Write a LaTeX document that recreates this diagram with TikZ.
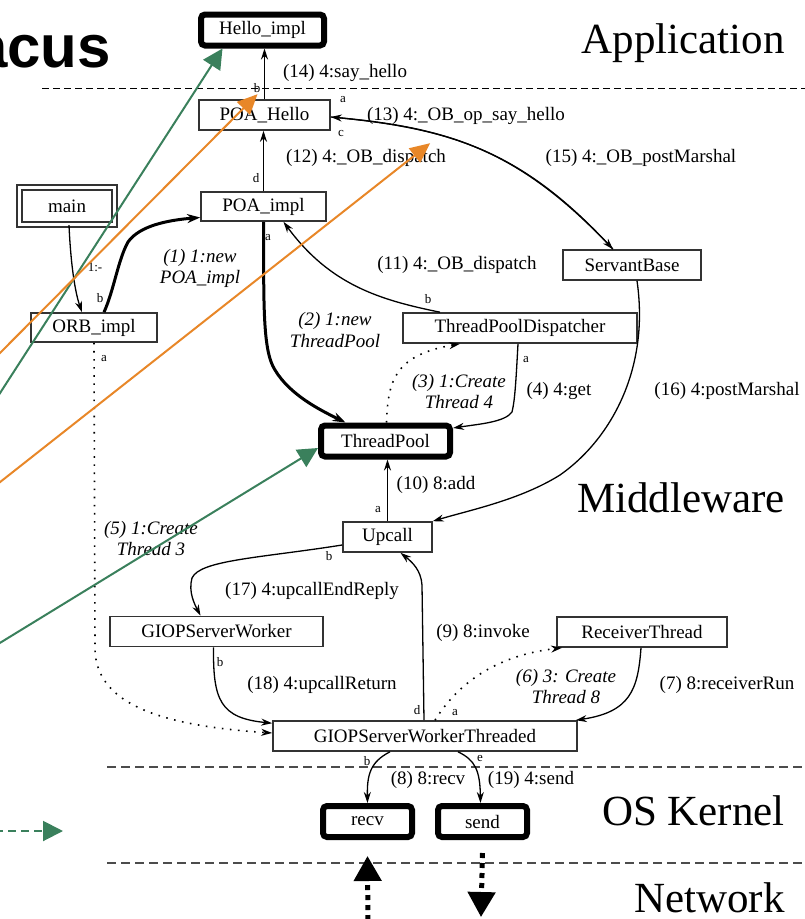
\documentclass[tikz,border=0pt]{standalone}
\usepackage{fontspec}
\setmainfont{Liberation Serif}
\newfontfamily\slidefont{Liberation Sans}
\usepackage{xcolor}
\usepackage{tikz}
\usetikzlibrary{
  arrows.meta,
  positioning,
  calc
}
\definecolor{slidegreen}{RGB}{58, 128, 92}
\definecolor{slideorange}{RGB}{232, 135, 40}

\begin{document}
\begin{tikzpicture}[
  x=1pt, y=-1pt,
  obj/.style  = {
    rectangle, draw=black!80, line width=1.6pt, inner sep=0pt,
    minimum height=30pt, font=\fontsize{19}{21}\selectfont
  },
  act/.style  = {
    rectangle, draw=black, line width=6pt, rounded corners=4pt,
    inner sep=0pt, minimum height=31pt, font=\fontsize{19}{21}\selectfont
  },
  lbl/.style  = {inner sep=0pt, font=\fontsize{19}{21}\selectfont},
  ilbl/.style = {inner sep=0pt, align=center, font=\fontsize{19}{21}\selectfont\itshape},
  tag/.style  = {inner sep=0pt, font=\fontsize{13}{13}\selectfont},
  tier/.style = {inner sep=0pt, anchor=base east, font=\fontsize{43}{43}\selectfont},
  arr/.style  = {-{Stealth[length=11pt,width=7pt]}, line width=1.3pt},
  arrb/.style = {-{Stealth[length=13pt,width=9pt]}, line width=3pt},
  dots/.style = {-{Stealth[length=11pt,width=7pt]}, line width=1.6pt, dash pattern=on 1.6pt off 6.5pt},
  netarr/.style = {-{Triangle[length=25pt,width=27pt]}, line width=5pt, dash pattern=on 5pt off 5pt},
  tierline/.style = {dash pattern=on 9pt off 5pt, line width=2pt, black!70},
  grn/.style  = {-{Triangle[length=20pt,width=20pt]}, line width=2pt, slidegreen},
  org/.style  = {-{Triangle[length=20pt,width=18pt]}, line width=2pt, slideorange}
]
\useasboundingbox (0,0) rectangle (804,919);

% slide title, cut at the left
\node[inner sep=0pt, anchor=base east, font=\slidefont\bfseries\fontsize{60}{60}\selectfont] (title) at (111,67) {acus};

% layers
\draw[dash pattern=on 7pt off 4pt, line width=1pt] (42,88) -- (810,88);
\draw[tierline] (107,767) -- (810,767);
\draw[tierline] (107,863) -- (810,863);
\node[tier] (tapp) at (785,53)  {Application};
\node[tier] (tmid) at (785,512) {Middleware};
\node[tier] (tos)  at (785,825) {OS Kernel};
\node[tier] (tnet) at (785,912) {Network};

% objects
\node[act, minimum width=123pt] (hello)    at (262.5,30)  {Hello\_impl};
\node[obj, minimum width=131pt] (poahello) at (264.5,115) {POA\_Hello};
\node[obj, minimum width=125pt, minimum height=29pt] (poaimpl) at (263.5,206.5) {POA\_impl};
\node[obj, minimum width=95pt, minimum height=37pt, double=white, double distance=3.5pt, line width=1.3pt] (main) at (67,206) {main};
\node[obj, minimum width=126pt, minimum height=29pt] (orb) at (94,327.5) {ORB\_impl};
\node[obj, minimum width=234pt] (tpd)      at (520,328)   {ThreadPoolDispatcher};
\node[obj, minimum width=138pt] (servant)  at (632,265)   {ServantBase};
\node[act, minimum width=129pt] (tp)       at (385.5,441) {ThreadPool};
\node[obj, minimum width=89pt]  (upcall)   at (387.5,537) {Upcall};
\node[obj, minimum width=213pt] (gsw)      at (216.5,631.5) {GIOPServerWorker};
\node[obj, minimum width=170pt] (receiver) at (642,632)   {ReceiverThread};
\node[obj, minimum width=304pt] (gswt)     at (425,736)   {GIOPServerWorkerThreaded};
\node[act, minimum width=89pt]  (recv)     at (367.5,821.5) {recv};
\node[act, minimum width=89pt]  (send)     at (482.5,821.5) {send};

% calls
\draw[arr] (poahello.north) -- (poahello.north |- hello.south);
\draw[arr] (poaimpl.north) -- (poaimpl.north |- poahello.south);
\draw[arr] ([xshift=2pt]main.south) .. controls (71,270) and (76,295) .. ([xshift=-12pt]orb.north);
\draw[arrb] ([xshift=10pt]orb.north) .. controls (114,290) and (118,260) .. (128,242)
  .. controls (140,225) and (170,220) .. ([yshift=-11pt]poaimpl.west);
\draw[arrb] (poaimpl.south) .. controls (264,300) and (262,350) .. (275,370)
  .. controls (290,395) and (320,410) .. ([xshift=-40pt]tp.north);
\draw[dots] ([xshift=1pt]tp.north) .. controls (388,380) and (395,355) .. ([xshift=-60pt]tpd.south);
\draw[arr] ([xshift=-2pt]tpd.south) .. controls (516,380) and (515,400) .. (512,412)
  .. controls (505,422) and (480,424) .. ([yshift=13pt]tp.east);
\draw[arr] ([xshift=-80pt]tpd.north) .. controls (380,300) and (330,285) .. ([xshift=20pt]poaimpl.south);
\draw[arr] ([xshift=-19pt]servant.north) .. controls (520,150) and (450,128) .. ([yshift=-2pt]poahello.east);
\draw[arr] ([yshift=-2pt]poahello.east) .. controls (450,128) and (520,150) .. ([xshift=-19pt]servant.north);
\draw[arr] ([xshift=5pt]servant.south) .. controls (650,370) and (610,440) .. (560,475)
  .. controls (520,500) and (470,510) .. (upcall.north east);
\draw[arr] (upcall.north) -- (upcall.north |- tp.south);
\draw[arr] ([yshift=-8pt]upcall.west) .. controls (260,558) and (200,560) .. (192,578)
  .. controls (188,592) and (195,605) .. ([xshift=-16pt]gsw.north);
\draw[arr] ([xshift=-3pt]gsw.south) .. controls (213,700) and (220,718) .. ([yshift=-3pt]gswt.north west);
\draw[dots] (orb.south) -- (95,650) .. controls (97,700) and (150,725) .. ([yshift=3pt]gswt.west);
\draw[arr] ([xshift=-1pt]gswt.north) -- (422,585) .. controls (421,570) and (412,562) .. ([xshift=13pt]upcall.south);
\draw[dots] ([xshift=10pt]gswt.north) .. controls (460,680) and (500,655) .. ([xshift=-80pt]receiver.south);
\draw[arr] ([xshift=-1pt]receiver.south) .. controls (638,690) and (630,712) .. ([xshift=-2pt]gswt.north east);
\draw[arr] ([xshift=-35pt]gswt.south) .. controls (370,762) and (367,775) .. (recv.north);
\draw[arr] ([xshift=33pt]gswt.south) .. controls (475,760) and (480,770) .. ([xshift=-2pt]send.north);

% network
\coordinate (netin)  at (368,930);
\coordinate (netout) at (481,917);
\draw[netarr] (netin) -- ([yshift=-16pt]recv.south);
\draw[netarr] ([yshift=-13pt]send.south) -- (netout);

% call labels
\node[lbl] (l14) at (345,73)  {(14) 4:say\_hello};
\node[lbl] (l13) at (466,116) {(13) 4:\_OB\_op\_say\_hello};
\node[lbl] (l12) at (366,158) {(12) 4:\_OB\_dispatch};
\node[lbl] (l15) at (641,158) {(15) 4:\_OB\_postMarshal};
\node[lbl] (l11) at (457,265) {(11) 4:\_OB\_dispatch};
\node[ilbl] (l1) at (200,268) {(1) 1:new\\POA\_impl};
\node[ilbl] (l2) at (335,330) {(2) 1:new\\ThreadPool};
\node[ilbl] (l3) at (459,391) {(3) 1:Create\\Thread 4};
\node[lbl] (l4)  at (559,391) {(4) 4:get};
\node[lbl] (l16) at (727,391) {(16) 4:postMarshal};
\node[lbl] (l10) at (436,485) {(10) 8:add};
\node[ilbl] (l5) at (151,538) {(5) 1:Create\\Thread 3};
\node[lbl] (l17) at (312,591) {(17) 4:upcallEndReply};
\node[lbl] (l9)  at (483,633) {(9) 8:invoke};
\node[lbl] (l18) at (322,685) {(18) 4:upcallReturn};
\node[ilbl] (l6) at (566,686) {(6) 3: Create\\Thread 8};
\node[lbl] (l7)  at (727,685) {(7) 8:receiverRun};
\node[lbl] (l8)  at (428,780) {(8) 8:recv};
\node[lbl] (l19) at (531,780) {(19) 4:send};

% port tags
\node[tag] (t1)  at (257,88)  {b};
\node[tag] (t2)  at (343,100) {a};
\node[tag] (t3)  at (341,133) {c};
\node[tag] (t4)  at (256,178) {d};
\node[tag] (t5)  at (95,267)  {1:-};
\node[tag] (t6)  at (100,298) {b};
\node[tag] (t7)  at (268,238) {a};
\node[tag] (t8)  at (104,359) {a};
\node[tag] (t9)  at (428,299) {b};
\node[tag] (t10) at (526,360) {a};
\node[tag] (t11) at (378,510) {a};
\node[tag] (t12) at (329,556) {b};
\node[tag] (t13) at (220,662) {b};
\node[tag] (t14) at (417,710) {d};
\node[tag] (t15) at (455,713) {a};
\node[tag] (t16) at (367,761) {b};
\node[tag] (t17) at (480,758) {e};

% slide pointers
\coordinate (gA) at (-10,408.6);
\coordinate (gB) at (-10,649);
\coordinate (gC) at (-5,831);
\coordinate (gCtip) at (63,831);
\coordinate (oA) at (-10,363);
\coordinate (oB) at (-10,490);
\draw[grn] (gA) -- ([xshift=-40pt]hello.south);
\draw[grn] (gB) -- ([yshift=-7pt]tp.west);
\draw[grn, dash pattern=on 8pt off 5pt] (gC) -- (gCtip);
\draw[org] (oA) -- ([xshift=-7pt,yshift=5pt]poahello.north);
\draw[org] (oB) -- ([xshift=-16pt,yshift=6pt]l12.north east);

\end{tikzpicture}
\end{document}
